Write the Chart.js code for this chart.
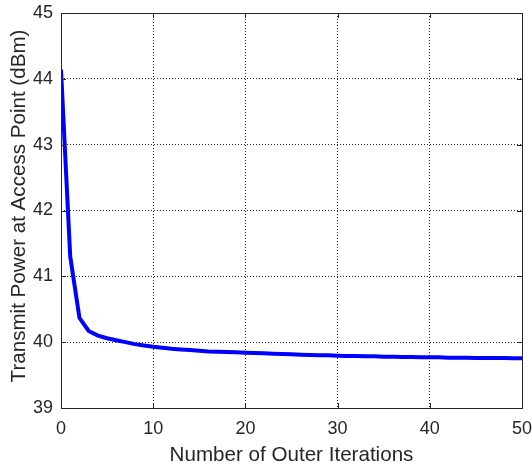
<!DOCTYPE html>
<html><head><meta charset="utf-8">
<script src="https://cdn.jsdelivr.net/npm/chart.js@4/dist/chart.umd.min.js"></script>
<style>html,body{margin:0;padding:0;background:#fff}#wrap{width:532px;height:468px}</style>
</head><body><div id="wrap"><canvas id="c" width="532" height="468"></canvas></div>
<script>
const iterations = [0,1,2,3,4,5,6,7,8,9,10,11,12,13,14,15,16,17,18,19,20,21,22,23,24,25,26,27,28,29,30,31,32,33,34,35,36,37,38,39,40,41,42,43,44,45,46,47,48,49,50];
const transmitPower = [44.14,41.30,40.37,40.17,40.10,40.06,40.03,40.00,39.97,39.95,39.93,39.915,39.90,39.89,39.88,39.87,39.86,39.855,39.85,39.845,39.84,39.835,39.83,39.825,39.82,39.815,39.81,39.805,39.80,39.80,39.795,39.79,39.79,39.785,39.785,39.78,39.78,39.775,39.775,39.77,39.77,39.77,39.765,39.765,39.765,39.76,39.76,39.76,39.76,39.755,39.755];
const xTicks = [0,10,20,30,40,50];
const yTicks = [39,40,41,42,43,44,45];
const xLabel = 'Number of Outer Iterations';
const yLabel = 'Transmit Power at Access Point (dBm)';

const boxPlugin = {
  id: 'box',
  afterDraw(chart) {
    const {ctx, chartArea: a, scales: {x, y}} = chart;
    ctx.save();
    ctx.strokeStyle = '#262626';
    ctx.lineWidth = 1;
    ctx.beginPath();
    const L = 5;
    xTicks.forEach(v => {
      const px = Math.round(x.getPixelForValue(v)) + 0.5;
      ctx.moveTo(px, a.bottom); ctx.lineTo(px, a.bottom - L);
      ctx.moveTo(px, a.top); ctx.lineTo(px, a.top + L);
    });
    yTicks.forEach(v => {
      const py = Math.round(y.getPixelForValue(v)) + 0.5;
      ctx.moveTo(a.left, py); ctx.lineTo(a.left + L, py);
      ctx.moveTo(a.right, py); ctx.lineTo(a.right - L, py);
    });
    ctx.stroke();
    ctx.strokeRect(Math.round(a.left) + 0.5, Math.round(a.top) + 0.5, Math.round(a.right - a.left), Math.round(a.bottom - a.top));
    // y-axis title
    ctx.translate(25, 206);
    ctx.rotate(-Math.PI / 2);
    ctx.fillStyle = '#262626';
    ctx.font = '20.6px "Liberation Sans", Arial';
    ctx.textAlign = 'center';
    ctx.textBaseline = 'alphabetic';
    ctx.fillText(yLabel, 0, 0);
    ctx.restore();
  }
};

new Chart(document.getElementById('c'), {
  type: 'line',
  data: {
    datasets: [{
      data: iterations.map((v, i) => ({x: v, y: transmitPower[i]})),
      borderColor: '#0000ff',
      borderWidth: 4,
      pointRadius: 0,
      tension: 0,
      fill: false
    }]
  },
  options: {
    responsive: false,
    animation: false,
    devicePixelRatio: 1,
    plugins: {legend: {display: false}, tooltip: {enabled: false}},
    layout: {padding: {top: 13, right: 10, left: 0, bottom: 0}},
    scales: {
      x: {
        type: 'linear', min: 0, max: 50,
        afterBuildTicks(s) { s.ticks = xTicks.map(v => ({value: v})); },
        afterFit(s) { s.height = 60; s.paddingLeft = 0; s.paddingRight = 0; },
        grid: {color: 'rgba(0,0,0,0.85)', lineWidth: 1, drawTicks: false},
        border: {display: false, dash: [1, 2]},
        ticks: {color: '#262626', font: {family: 'Liberation Sans, Arial', size: 18}, padding: 10, maxRotation: 0},
        title: {display: true, text: xLabel, color: '#262626', font: {family: 'Liberation Sans, Arial', size: 20.6}, padding: {top: 0, bottom: 0}}
      },
      y: {
        type: 'linear', min: 39, max: 45,
        afterBuildTicks(s) { s.ticks = yTicks.map(v => ({value: v})); },
        afterFit(s) { s.width = 61; s.paddingTop = 0; s.paddingBottom = 0; },
        grid: {color: 'rgba(0,0,0,0.85)', lineWidth: 1, drawTicks: false},
        border: {display: false, dash: [1, 2]},
        ticks: {color: '#262626', font: {family: 'Liberation Sans, Arial', size: 18}, padding: 8},
        title: {display: false}
      }
    }
  },
  plugins: [boxPlugin]
});
</script></body></html>
